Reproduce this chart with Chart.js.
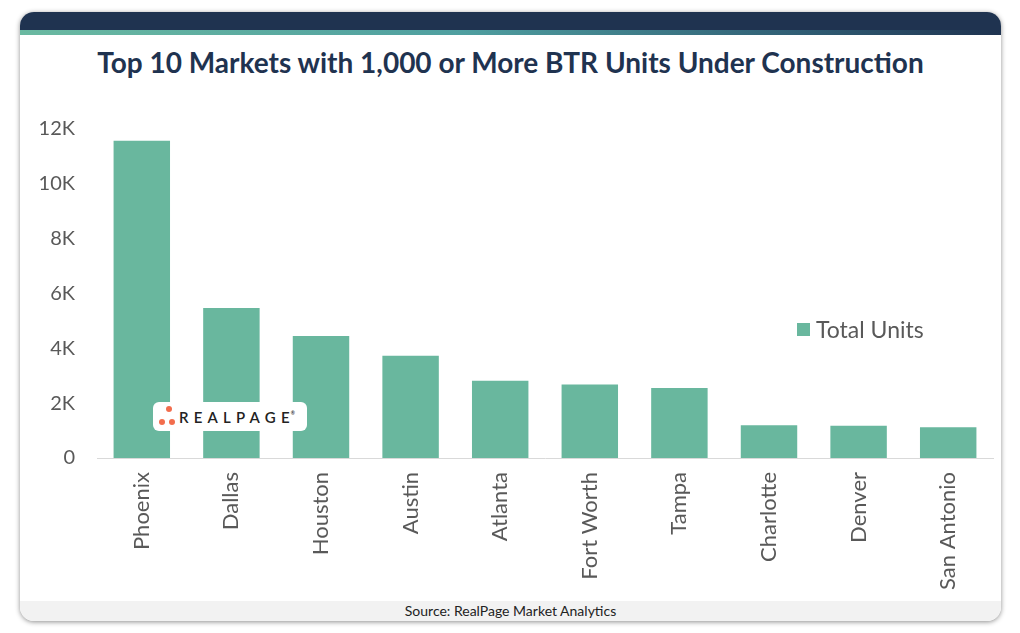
<!DOCTYPE html>
<html>
<head>
<meta charset="utf-8">
<script src="https://cdn.jsdelivr.net/npm/chart.js@4/dist/chart.umd.min.js"></script>
<style>
  body { margin: 0; background: #fff; font-family: Lato, sans-serif; }
  #card {
    position: absolute; left: 20px; top: 12px; width: 981px; height: 609px;
    background: #fff; border-radius: 14px; overflow: hidden;
    box-shadow: 0 1px 5px rgba(0,0,0,0.45);
  }
  #bar-top { position: absolute; left: 0; top: 0; width: 100%; height: 18px; background: #1f3350; }
  #bar-strip {
    position: absolute; left: 0; top: 18px; width: 100%; height: 5px;
    background: linear-gradient(to right, #6ab9a1 0%, #4f9fa0 45%, #2f5c73 80%, #1f3350 100%);
  }
  #title {
    position: absolute; left: 0; top: 33px; width: 100%; text-align: center;
    font-weight: bold; font-size: 28px; color: #1f3350;
  }
  #footer {
    position: absolute; left: 0; bottom: 0; width: 100%; height: 20px; background: #f2f2f2;
    text-align: center; font-size: 14px; line-height: 20px; color: #222;
  }
  #wrap { position: absolute; left: 20px; top: 95px; width: 981px; height: 505px; }
  #legend {
    position: absolute; left: 797px; top: 315px; font-size: 23px; color: #595959;
    display: flex; align-items: center;
  }
  #legend span.sw { width: 13px; height: 13px; background: #69b79e; margin-right: 6px; display: inline-block; }
  #logo {
    position: absolute; left: 153px; top: 402px; width: 154px; height: 29px;
    background: #fff; border-radius: 6px;
  }
  #logo .dot { position: absolute; width: 6px; height: 6px; border-radius: 50%; background: #f26d4d; }
  #logo .txt {
    position: absolute; left: 26px; top: 6px; font-size: 15px; font-weight: 600;
    letter-spacing: 5.2px; color: #222;
  }
  #logo .txt sup { font-size: 5px; letter-spacing: 0; vertical-align: 8px; margin-left: -4px; }
</style>
</head>
<body>
<div id="card">
  <div id="bar-top"></div>
  <div id="bar-strip"></div>
  <div id="title">Top 10 Markets with 1,000 or More BTR Units Under Construction</div>
  <div id="footer">Source: RealPage Market Analytics</div>
</div>
<div id="wrap"><canvas id="chart"></canvas></div>
<div id="legend"><span class="sw"></span>Total Units</div>
<div id="logo">
  <div class="dot" style="left:13px;top:4px"></div>
  <div class="dot" style="left:6px;top:17px"></div>
  <div class="dot" style="left:16px;top:17px"></div>
  <div class="txt">REALPAGE<sup>®</sup></div>
</div>
<script>
const markets = ['Phoenix', 'Dallas', 'Houston', 'Austin', 'Atlanta', 'Fort Worth', 'Tampa', 'Charlotte', 'Denver', 'San Antonio'];
const totalUnits = [11570, 5470, 4450, 3730, 2820, 2680, 2550, 1190, 1180, 1120];
const yTicks = [0, 2000, 4000, 6000, 8000, 10000, 12000];

const ctx = document.getElementById('chart').getContext('2d');
new Chart(ctx, {
    type: 'bar',
    data: {
        labels: markets,
        datasets: [{
            label: 'Total Units',
            data: totalUnits,
            backgroundColor: '#69b79e',
            categoryPercentage: 1,
            barPercentage: 0.63
        }]
    },
    options: {
        responsive: true,
        maintainAspectRatio: false,
        animation: false,
        layout: { padding: { top: 34, right: 8, left: 0, bottom: 0 } },
        plugins: { legend: { display: false }, tooltip: { enabled: false } },
        scales: {
            x: {
                grid: { display: false, drawTicks: false },
                border: { color: '#d9d9d9', width: 1 },
                ticks: {
                    minRotation: 90, maxRotation: 90, padding: 14,
                    color: '#595959', font: { family: 'Lato', size: 22 }
                },
                afterFit: s => { s.height = 142; }
            },
            y: {
                min: 0, max: 12000,
                grid: { display: false, drawTicks: false },
                border: { display: false },
                afterBuildTicks: s => { s.ticks = yTicks.map(v => ({ value: v })); },
                ticks: {
                    padding: 22, color: '#595959', font: { family: 'Lato', size: 20 },
                    callback: v => v === 0 ? '0' : (v / 1000) + 'K'
                },
                afterFit: s => { s.width = 77; }
            }
        }
    }
});
</script>
</body>
</html>
